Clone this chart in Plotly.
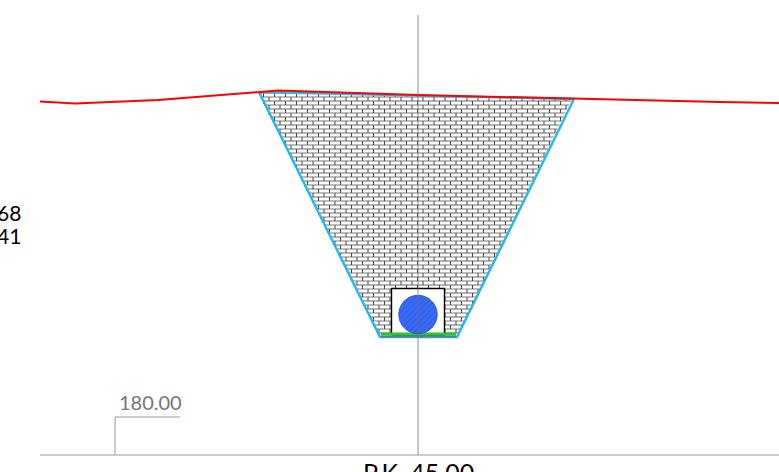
import math
import plotly.graph_objects as go

# Section coordinates: offset from the axis (m) and level (m)
ground_x = [-37.8, -34.3, -26.0, -15.8, -14.0, 0.0, 15.6, 30.2, 36.1]
ground_y = [37.05, 36.85, 37.2, 38.0, 38.15, 37.7, 37.3, 37.0, 36.9]
cut_x = [-15.9, 15.6, 3.9, -3.8, -15.9]
cut_y = [38.0, 37.3, 13.5, 13.5, 38.0]
bed_x = [-3.7, 3.8]
bed_y = [13.8, 13.8]
base_x = [-3.7, 3.8]
base_y = [13.55, 13.55]
box_x = [-2.65, 2.65, 2.65, -2.65, -2.65]
box_y = [13.7, 13.7, 18.35, 18.35, 13.7]
pipe_cx, pipe_cy, pipe_r = 0.0, 15.75, 1.92
axis_x = [-37.8, 36.1]
axis_y = [1.7, 1.7]
centre_x = [0.0, 0.0]
centre_y = [1.7, 45.7]
level_x = [-30.3, -30.3, -23.8]
level_y = [1.7, 5.5, 5.5]
level_label = "180.00"
pk_label = "P.K. 45.00"
side_labels = ["68", "41"]
side_label_y = [26.0, 23.7]


def inside(x, y):
    # within the trapezoid of the cut, under the top edge, and outside the box
    if y < 13.6 or y > 38.0 - (x + 15.9) * 0.0222:
        return False
    t = (y - 13.5) / (37.65 - 13.5)
    if not (-3.8 - 12.1 * t <= x <= 3.9 + 11.7 * t):
        return False
    return not (-2.65 <= x <= 2.65 and 13.7 <= y <= 18.35)


def clipped(x0, y0, x1, y1, steps):
    xs, ys = [], []
    run = False
    for i in range(steps + 1):
        x = x0 + (x1 - x0) * i / steps
        y = y0 + (y1 - y0) * i / steps
        if inside(x, y):
            xs.append(x); ys.append(y); run = True
        elif run:
            xs.append(None); ys.append(None); run = False
    xs.append(None); ys.append(None)
    return xs, ys


h_dark_x, h_dark_y, h_light_x, h_light_y, v_x, v_y = [], [], [], [], [], []
row = 0
y = 13.9
while y < 38.6:
    xs, ys = clipped(-16.0, y, 16.0, y, 640)
    if row % 2 == 0:
        h_dark_x += xs; h_dark_y += ys
    else:
        h_light_x += xs; h_light_y += ys
    x = -16.0 + (row % 2) * 0.55
    while x < 16.0:
        vx, vy = clipped(x, y, x, y + 0.4, 4)
        v_x += vx; v_y += vy
        x += 1.1
    row += 1
    y += 0.4

circle_x = [pipe_cx + pipe_r * math.cos(math.radians(a)) for a in range(0, 361, 5)]
circle_y = [pipe_cy + pipe_r * math.sin(math.radians(a)) for a in range(0, 361, 5)]

fig = go.Figure()
fig.add_trace(go.Scatter(x=h_light_x, y=h_light_y, mode="lines", line=dict(color="#bdbdbd", width=2), hoverinfo="skip"))
fig.add_trace(go.Scatter(x=h_dark_x, y=h_dark_y, mode="lines", line=dict(color="#6a6a6a", width=1), hoverinfo="skip"))
fig.add_trace(go.Scatter(x=v_x, y=v_y, mode="lines", line=dict(color="#484848", width=1), hoverinfo="skip"))
fig.add_trace(go.Scatter(x=box_x, y=box_y, mode="lines", fill="toself", fillcolor="white", line=dict(color="black", width=1.4)))
fig.add_trace(go.Scatter(x=cut_x, y=cut_y, mode="lines", line=dict(color="#22b8f0", width=2.4)))
fig.add_trace(go.Scatter(x=bed_x, y=bed_y, mode="lines", line=dict(color="#1fd01f", width=3)))
fig.add_trace(go.Scatter(x=base_x, y=base_y, mode="lines", line=dict(color="#5f8080", width=2)))
fig.add_trace(go.Scatter(x=ground_x, y=ground_y, mode="lines", line=dict(color="#ff0000", width=2)))
fig.add_trace(go.Scatter(x=axis_x, y=axis_y, mode="lines", line=dict(color="#9a9a9a", width=1)))
fig.add_trace(go.Scatter(x=level_x, y=level_y, mode="lines", line=dict(color="#9a9a9a", width=1)))
fig.add_trace(go.Scatter(x=circle_x, y=circle_y, mode="lines", fill="toself", fillcolor="#2f62f5",
                         fillpattern=dict(shape="/", fgcolor="#2a50d8", bgcolor="#3a6cf8", size=4, solidity=0.4),
                         line=dict(color="#2a58e8", width=1)))
fig.add_trace(go.Scatter(x=centre_x, y=centre_y, mode="lines", line=dict(color="rgba(110,110,110,0.55)", width=1.4)))

font = "Lato"
fig.add_annotation(x=-23.4, y=5.6, text=level_label, showarrow=False, xanchor="right", yanchor="bottom",
                   font=dict(family=font, size=20, color="#777777"))
fig.add_annotation(x=0.0, y=1.75, text=pk_label, showarrow=False, xanchor="center", yanchor="top",
                   font=dict(family=font, size=25, color="black"))
for label, ly in zip(side_labels, side_label_y):
    fig.add_annotation(x=-39.5, y=ly, text=label, showarrow=False, xanchor="right", yanchor="middle",
                       font=dict(family=font, size=21, color="black"))

fig.update_layout(
    width=779, height=472, margin=dict(l=0, r=0, t=0, b=0), showlegend=False,
    paper_bgcolor="white", plot_bgcolor="white",
    xaxis=dict(range=[-41.8, 36.1], visible=False, fixedrange=True),
    yaxis=dict(range=[0, 47.2], visible=False, fixedrange=True),
)
fig.write_html("out.html", config={"displayModeBar": False},
               post_script="document.body.style.margin='0';document.body.style.overflow='hidden';")
